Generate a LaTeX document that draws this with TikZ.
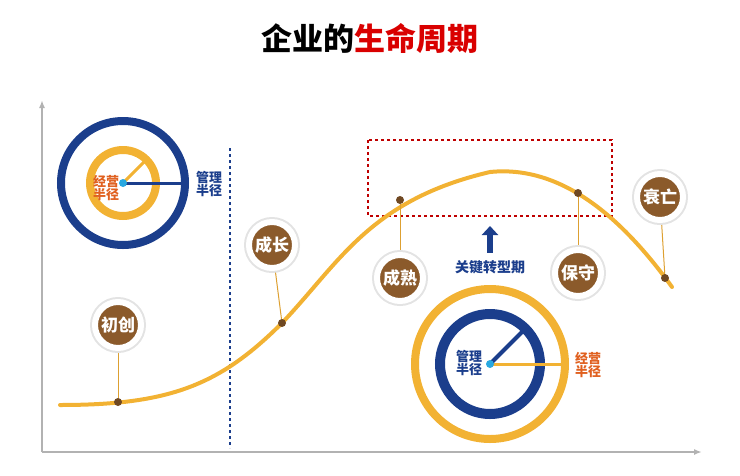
\documentclass[tikz,border=0pt]{standalone}
\usepackage{fontspec}
\setmainfont{Noto Sans CJK SC}
\usetikzlibrary{arrows.meta}
\definecolor{gold}{HTML}{F2B233}
\definecolor{navy}{HTML}{1B3E8C}
\definecolor{brown}{HTML}{8B5A2B}
\definecolor{rust}{HTML}{E0601F}
\definecolor{cyanc}{HTML}{29A8E0}
\tikzset{
  stage/.style={circle, fill=brown, text=white, font=\bfseries\fontsize{17}{17}\selectfont,
    minimum size=46pt, inner sep=1pt, draw=white, line width=6pt,
    preaction={draw=gray!22, line width=10pt}},
  stem/.style={gold!80!brown, line width=1pt},
  pt/.style={circle, fill=brown!80!black, inner sep=0pt, minimum size=8pt},
  rlab/.style={font=\bfseries\fontsize{13}{13}\selectfont, align=center, inner sep=0pt}
}
\begin{document}
\begin{tikzpicture}[x=1pt,y=-1pt]
\useasboundingbox (0,0) rectangle (740,475);

% Title
\node[font=\bfseries\fontsize{31}{31}\selectfont] (title) at (370,38) {企业的\textcolor{red!85!black}{生命周期}};

% Axes
\draw[gray!60, line width=2pt, -{Latex[length=8pt]}] (42,452) -- (42,100);
\draw[gray!60, line width=2pt, -{Latex[length=8pt]}] (42,452) -- (702,452);

% Dashed divider and transition frame
\draw[navy, dashed, line width=1.2pt] (230,148) -- (230,448);
\draw[red!75!black, dashed, line width=1.2pt] (368,140) rectangle (612,216);

% Life curve
\draw[gold, line width=4pt, line cap=round] (60,405) .. controls (170,405) and (220,385) .. (282,323)
  .. controls (340,262) and (370,200) .. (490,172)
  .. controls (560,165) and (620,215) .. (672,287);

% Stage points
\node[pt] (p1) at (118,402) {};
\node[pt] (p2) at (282,323) {};
\node[pt] (p3) at (400,200) {};
\node[pt] (p4) at (578,193) {};
\node[pt] (p5) at (665,278) {};

% Stage bubbles
\draw[stem] (118,325) -- (p1);
\draw[stem] (272,245) -- (p2);
\draw[stem] (400,278) -- (p3);
\draw[stem] (578,273) -- (p4);
\draw[stem] (660,197) -- (p5);
\node[stage] (s1) at (118,325) {初创};
\node[stage] (s2) at (272,245) {成长};
\node[stage] (s3) at (400,278) {成熟};
\node[stage] (s4) at (578,273) {保守};
\node[stage] (s5) at (660,197) {衰亡};

% Key transition
\node[text=navy, font=\bfseries\fontsize{14}{14}\selectfont] (key) at (490,267) {关键转型期};
\coordinate (keytip) at (490,226);
\draw[navy, line width=6pt, -{Triangle[length=9pt,width=16pt]}] (key.north) ++(0,-4) -- (keytip);

% Early stage radii
\coordinate (c1) at (123,183);
\draw[navy, line width=8pt] (c1) circle (62);
\draw[gold, line width=8pt] (c1) circle (33);
\draw[navy, line width=3pt] (c1) -- ++(62,0);
\draw[gold, line width=3pt] (c1) -- ++(-45:33);
\fill[cyanc] (c1) circle (4);
\node[rlab, text=rust] (r1) at (106,188) {经营\\半径};
\node[rlab, text=navy] (r2) at (209,184) {管理\\半径};

% Mature stage radii
\coordinate (c2) at (490,364);
\draw[gold, line width=8pt] (c2) circle (75);
\draw[navy, line width=10pt] (c2) circle (50);
\draw[navy, line width=4pt] (c2) -- ++(-45:50);
\draw[gold, line width=3pt] (c2) -- ++(75,0);
\fill[cyanc] (c2) circle (4);
\node[rlab, text=navy] (r3) at (469,363) {管理\\半径};
\node[rlab, text=rust] (r4) at (588,365) {经营\\半径};
\end{tikzpicture}
\end{document}
